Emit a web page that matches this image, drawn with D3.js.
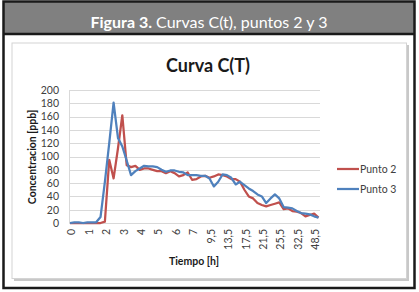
<!DOCTYPE html>
<html><head><meta charset="utf-8">
<script src="https://cdn.jsdelivr.net/npm/d3@7"></script>
<style>
html,body{margin:0;padding:0;background:#fff;}
svg{display:block;}
</style></head>
<body>
<script>
// ---- data ----
const times = [0,0.25,0.5,0.75,1,1.25,1.5,1.75,2,2.25,2.5,2.75,3,3.25,3.5,3.75,4,4.25,4.5,4.75,5,5.25,5.5,5.75,6,6.25,6.5,6.75,7,
  7.5,8,9,9.5,10.5,11.5,12.5,13.5,14.5,15.5,16.5,17.5,18.5,19.5,20.5,21.5,22.5,23.5,24.5,25.5,27.5,29.5,31.5,32.5,36.5,40.5,44.5,48.5,52.5];
const xTickLabels = ["0","1","2","3","4","5","6","7","9,5","13,5","17,5","21,5","25,5","32,5","48,5"];
const yTicks = [0,20,40,60,80,100,120,140,160,180,200];
const punto2 = [0,0,0,0,0,0,0,0,2,95,67,112,162,87,84,86,80,82,82,80,78,78,75,78,75,70,72,76,65,66,
  70,71,68,70,73,72,70,66,66,62,50,40,37,30,27,25,27,29,31,21,22,18,17,15,10,12,14,8];
const punto3 = [0,1,1,0,1,1,1,9,62,120,181,128,115,94,72,78,82,86,85,85,84,80,77,79,79,77,76,72,72,72,
  71,71,67,55,62,73,72,68,58,62,57,52,48,43,40,30,37,43,37,24,23,22,18,15,14,13,10,8];
const seriesNames = ["Punto 2","Punto 3"];
const seriesColors = ["#c0504d","#4f81bd"];

const W = 419, H = 292;
const svg = d3.select("body").append("svg").attr("width",W).attr("height",H);

// frame
svg.append("rect").attr("x",0).attr("y",0).attr("width",W).attr("height",H).attr("fill","#fff");
svg.append("rect").attr("x",3).attr("y",1.5).attr("width",411.5).attr("height",32.5).attr("fill","#808080");
svg.append("rect").attr("x",3.5).attr("y",1.5).attr("width",411).attr("height",286.5)
  .attr("fill","none").attr("stroke","#1a1a1a").attr("stroke-width",2.5);
svg.append("line").attr("x1",3).attr("x2",415).attr("y1",34).attr("y2",34).attr("stroke","#1a1a1a").attr("stroke-width",2.5);

const hdr = svg.append("text").attr("x",209).attr("y",28).attr("text-anchor","middle")
  .attr("fill","#fff").style("font-family","Lato, 'Open Sans', sans-serif").style("font-size","16px");
hdr.append("tspan").attr("font-weight","bold").text("Figura 3.");
hdr.append("tspan").text(" Curvas C(t), puntos 2 y 3");

// chart box with shadow
svg.append("rect").attr("x",14).attr("y",45).attr("width",395).attr("height",236).attr("fill","#c8c8c8");
svg.append("rect").attr("x",12).attr("y",43).attr("width",394.5).attr("height",235.5)
  .attr("fill","#fff").attr("stroke","#d4d4d4").attr("stroke-width",1);

svg.append("text").attr("x",208).attr("y",72).attr("text-anchor","middle")
  .style("font-family","Lato, sans-serif").style("font-size","18px").style("font-weight","bold")
  .attr("fill","#1a1a1a").text("Curva C(T)");

// scales
const x = d3.scalePoint().domain(d3.range(times.length)).range([70,318.5]);
const y = d3.scaleLinear().domain([0,200]).range([223,90]);

// gridlines
svg.append("g").selectAll("line").data(yTicks).join("line")
  .attr("x1",69).attr("x2",320).attr("y1",d=>Math.round(y(d))+0.5).attr("y2",d=>Math.round(y(d))+0.5)
  .attr("stroke","#d9d9d9").attr("stroke-width",1);
svg.append("line").attr("x1",69.5).attr("x2",69.5).attr("y1",90).attr("y2",223.5).attr("stroke","#d9d9d9");

// y axis
const yAxis = d3.axisLeft(y).tickValues(yTicks).tickSize(0).tickPadding(0);
const gy = svg.append("g").attr("transform","translate(59,0)").call(yAxis);
gy.select(".domain").remove();
gy.selectAll("text").style("font-family","Lato, sans-serif").style("font-size","10.5px").attr("fill","#404040");

// x axis
const fmt = t => String(t).replace(".",",");
const tickIdx = d3.range(times.length).filter(i => xTickLabels.includes(fmt(times[i])));
const xAxis = d3.axisBottom(x).tickValues(tickIdx).tickFormat(i=>fmt(times[i])).tickSize(0);
const gx = svg.append("g").attr("transform","translate(0,229)").call(xAxis);
gx.select(".domain").remove();
gx.selectAll("text").attr("transform","rotate(-90)").attr("text-anchor","end")
  .attr("x",0).attr("y",0).attr("dx","0").attr("dy","0.35em")
  .style("font-family","Lato, sans-serif").style("font-size","10.5px").attr("fill","#404040");
gx.selectAll(".tick").attr("transform",i=>`translate(${x(i)+1.5},229)`);
gx.attr("transform",null);

// axis titles
svg.append("text").attr("x",194).attr("y",265).attr("text-anchor","middle")
  .style("font-family","Lato, sans-serif").style("font-size","10.5px").style("font-weight","bold")
  .attr("fill","#1a1a1a").text("Tiempo [h]");
svg.append("text").attr("transform","translate(36,157) rotate(-90)").attr("text-anchor","middle")
  .style("font-family","Lato, sans-serif").style("font-size","10.5px").style("font-weight","bold")
  .attr("fill","#1a1a1a").text("Concentracion [ppb]");

// lines
const line = d3.line().x((d,i)=>x(i)).y(d=>y(d));
[punto2,punto3].forEach((s,k)=>{
  svg.append("path").datum(s).attr("d",line).attr("fill","none")
    .attr("stroke",seriesColors[k]).attr("stroke-width",2.25).attr("stroke-linejoin","round");
});

// legend
const lg = svg.append("g");
seriesNames.forEach((n,k)=>{
  const yy = 169 + k*20;
  lg.append("line").attr("x1",337).attr("x2",359).attr("y1",yy).attr("y2",yy)
    .attr("stroke",seriesColors[k]).attr("stroke-width",2.25);
  lg.append("text").attr("x",360).attr("y",yy+3.5).style("font-family","Lato, sans-serif")
    .style("font-size","10.5px").attr("fill","#404040").text(n);
});
</script>
</body></html>
